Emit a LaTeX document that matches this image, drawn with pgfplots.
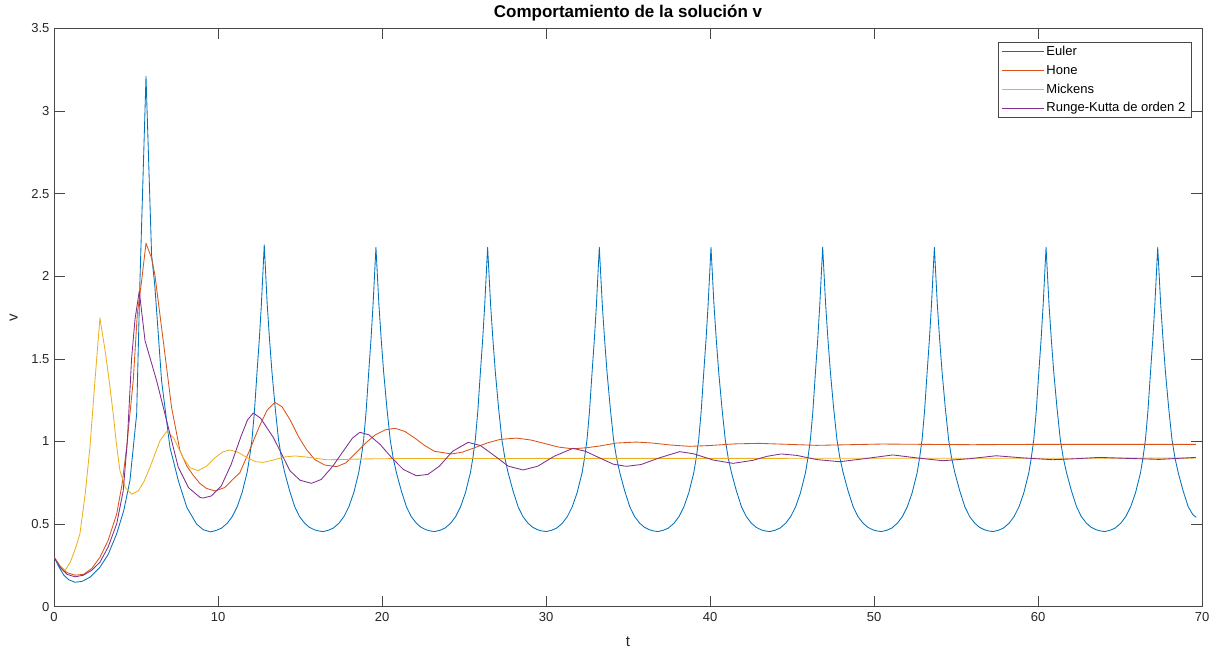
\documentclass[border=0pt]{standalone}
\usepackage{pgfplots}
\pgfplotsset{compat=1.18}
\usepackage{fontspec}
\setmainfont{Liberation Sans}
\definecolor{mblue}{rgb}{0,0.447,0.741}
\definecolor{mred}{rgb}{0.85,0.325,0.098}
\definecolor{myel}{rgb}{0.929,0.694,0.125}
\definecolor{mpur}{rgb}{0.494,0.184,0.556}
\definecolor{axgray}{rgb}{0.15,0.15,0.15}
\begin{document}
\begin{tikzpicture}
\begin{axis}[
  scale only axis,
  width=1148pt, height=578pt,
  xmin=0, xmax=70, ymin=0, ymax=3.5,
  xtick={0,10,...,70},
  ytick={0,0.5,1,1.5,2,2.5,3,3.5},
  yticklabels={0,0.5,1,1.5,2,2.5,3,3.5},
  xticklabels={0,10,20,30,40,50,60,70},
  tick align=inside,
  major tick length=11pt,
  axis line style={axgray!85, line width=0.6pt},
  tick style={axgray!85, line width=0.6pt},
  tick label style={font=\fontsize{13}{13}\selectfont, text=axgray},
  xticklabel style={yshift=-2pt},
  yticklabel style={xshift=-1pt},
  title={\textbf{Comportamiento de la solución v}},
  title style={font=\fontsize{17}{17}\selectfont, yshift=-2pt},
  xlabel={t}, ylabel={v},
  label style={font=\fontsize{15}{15}\selectfont, text=axgray},
  xlabel style={yshift=-9pt},
  ylabel style={yshift=7pt},
  legend cell align=left,
  legend style={at={(1,1)}, anchor=north east, xshift=-11pt, yshift=-14pt,
    font=\fontsize{13}{13}\selectfont, draw=axgray!85, line width=0.5pt,
    inner xsep=3.5pt, inner ysep=1.5pt, row sep=4pt},
  legend image code/.code={\draw[#1] (0pt,0pt) -- (42pt,0pt);},
  every axis plot/.append style={line width=0.85pt, line join=round},
]
% Euler
\addplot[mblue] coordinates {
(0,0.30)(0.3,0.24)(0.6,0.19)(0.9,0.162)(1.28,0.147)(1.7,0.152)(2.2,0.178)(2.8,0.238)(3.3,0.315)(3.82,0.44)(4.25,0.58)(4.63,0.762)(5.04,1.166)(5.24,1.97)(5.61,3.21)(5.95,2.13)(6.15,1.94)(6.56,1.367)(7.07,0.964)(7.58,0.762)(8.1,0.6)(8.69,0.50)(9.1,0.465)(9.55,0.452)
(9.92,0.462)(10.22,0.475)(10.57,0.505)(10.87,0.545)(11.17,0.604)(11.47,0.69)(11.77,0.81)(11.92,0.90)(12.07,1.01)(12.22,1.18)(12.38,1.42)(12.52,1.62)(12.64,1.82)(12.82,2.19)(13.00,1.83)(13.14,1.62)(13.29,1.42)(13.49,1.20)(13.69,1.01)(13.87,0.90)(14.07,0.81)(14.37,0.70)(14.68,0.604)(14.97,0.545)(15.28,0.505)(15.57,0.48)(15.87,0.465)(16.12,0.458)
(16.40,0.454)(16.73,0.462)(17.03,0.475)(17.38,0.505)(17.68,0.545)(17.98,0.604)(18.28,0.69)(18.58,0.81)(18.73,0.90)(18.88,1.01)(19.03,1.18)(19.19,1.42)(19.33,1.62)(19.45,1.82)(19.63,2.175)(19.81,1.83)(19.95,1.62)(20.10,1.42)(20.30,1.20)(20.50,1.01)(20.68,0.90)(20.88,0.81)(21.18,0.70)(21.49,0.604)(21.78,0.545)(22.09,0.505)(22.38,0.48)(22.68,0.465)(22.93,0.458)
(23.21,0.454)(23.54,0.462)(23.84,0.475)(24.19,0.505)(24.49,0.545)(24.79,0.604)(25.09,0.69)(25.39,0.81)(25.54,0.90)(25.69,1.01)(25.84,1.18)(26.00,1.42)(26.14,1.62)(26.26,1.82)(26.44,2.175)(26.62,1.83)(26.76,1.62)(26.91,1.42)(27.11,1.20)(27.31,1.01)(27.49,0.90)(27.69,0.81)(27.99,0.70)(28.30,0.604)(28.59,0.545)(28.90,0.505)(29.19,0.48)(29.49,0.465)(29.74,0.458)
(30.02,0.454)(30.35,0.462)(30.65,0.475)(31.00,0.505)(31.30,0.545)(31.60,0.604)(31.90,0.69)(32.20,0.81)(32.35,0.90)(32.50,1.01)(32.65,1.18)(32.81,1.42)(32.95,1.62)(33.07,1.82)(33.25,2.175)(33.43,1.83)(33.57,1.62)(33.72,1.42)(33.92,1.20)(34.12,1.01)(34.30,0.90)(34.50,0.81)(34.80,0.70)(35.11,0.604)(35.40,0.545)(35.71,0.505)(36.00,0.48)(36.30,0.465)(36.55,0.458)
(36.83,0.454)(37.16,0.462)(37.46,0.475)(37.81,0.505)(38.11,0.545)(38.41,0.604)(38.71,0.69)(39.01,0.81)(39.16,0.90)(39.31,1.01)(39.46,1.18)(39.62,1.42)(39.76,1.62)(39.88,1.82)(40.06,2.175)(40.24,1.83)(40.38,1.62)(40.53,1.42)(40.73,1.20)(40.93,1.01)(41.11,0.90)(41.31,0.81)(41.61,0.70)(41.92,0.604)(42.21,0.545)(42.52,0.505)(42.81,0.48)(43.11,0.465)(43.36,0.458)
(43.64,0.454)(43.97,0.462)(44.27,0.475)(44.62,0.505)(44.92,0.545)(45.22,0.604)(45.52,0.69)(45.82,0.81)(45.97,0.90)(46.12,1.01)(46.27,1.18)(46.43,1.42)(46.57,1.62)(46.69,1.82)(46.87,2.175)(47.05,1.83)(47.19,1.62)(47.34,1.42)(47.54,1.20)(47.74,1.01)(47.92,0.90)(48.12,0.81)(48.42,0.70)(48.73,0.604)(49.02,0.545)(49.33,0.505)(49.62,0.48)(49.92,0.465)(50.17,0.458)
(50.45,0.454)(50.78,0.462)(51.08,0.475)(51.43,0.505)(51.73,0.545)(52.03,0.604)(52.33,0.69)(52.63,0.81)(52.78,0.90)(52.93,1.01)(53.08,1.18)(53.24,1.42)(53.38,1.62)(53.50,1.82)(53.68,2.175)(53.86,1.83)(54.00,1.62)(54.15,1.42)(54.35,1.20)(54.55,1.01)(54.73,0.90)(54.93,0.81)(55.23,0.70)(55.54,0.604)(55.83,0.545)(56.14,0.505)(56.43,0.48)(56.73,0.465)(56.98,0.458)
(57.26,0.454)(57.59,0.462)(57.89,0.475)(58.24,0.505)(58.54,0.545)(58.84,0.604)(59.14,0.69)(59.44,0.81)(59.59,0.90)(59.74,1.01)(59.89,1.18)(60.05,1.42)(60.19,1.62)(60.31,1.82)(60.49,2.175)(60.67,1.83)(60.81,1.62)(60.96,1.42)(61.16,1.20)(61.36,1.01)(61.54,0.90)(61.74,0.81)(62.04,0.70)(62.35,0.604)(62.64,0.545)(62.95,0.505)(63.24,0.48)(63.54,0.465)(63.79,0.458)
(64.07,0.454)(64.40,0.462)(64.70,0.475)(65.05,0.505)(65.35,0.545)(65.65,0.604)(65.95,0.69)(66.25,0.81)(66.40,0.90)(66.55,1.01)(66.70,1.18)(66.86,1.42)(67.00,1.62)(67.12,1.82)(67.30,2.175)(67.48,1.83)(67.62,1.62)(67.77,1.42)(67.97,1.20)(68.17,1.01)(68.35,0.90)(68.55,0.81)(68.85,0.70)(69.16,0.604)(69.45,0.555)(69.65,0.54)
};
\addlegendentry{Euler}
% Hone
\addplot[mred] coordinates {
(0,0.30)(0.4,0.24)(0.8,0.205)(1.28,0.19)(1.8,0.195)(2.3,0.23)(2.8,0.298)(3.3,0.40)(3.82,0.56)(4.15,0.74)(4.43,0.964)(4.83,1.367)(5.08,1.77)(5.34,1.97)(5.61,2.20)(5.95,2.11)(6.15,2.01)(6.66,1.61)(7.17,1.205)(7.68,0.944)(8.1,0.85)(8.49,0.795)(8.9,0.745)(9.3,0.715)(9.81,0.70)(10.4,0.72)(10.9,0.77)(11.33,0.81)(11.9,0.94)(12.52,1.09)(13.0,1.19)(13.47,1.236)(13.9,1.21)(14.4,1.13)(14.9,1.03)(15.4,0.95)(15.9,0.89)(16.5,0.857)(17.23,0.847)(17.8,0.87)(18.4,0.93)(19.0,0.99)(19.6,1.04)(20.2,1.07)(20.8,1.079)(21.4,1.06)(22.0,1.02)(22.6,0.975)(23.2,0.94)(24.23,0.924)(24.9,0.935)(25.6,0.96)(26.4,0.99)(27.2,1.012)(28.2,1.02)(29.1,1.008)(30.0,0.985)(30.8,0.965)(31.64,0.955)(32.5,0.962)(33.27,0.972)(34.3,0.99)(35.5,0.996)(36.5,0.99)(37.6,0.978)(38.76,0.97)(40.0,0.975)(41.5,0.985)(43.0,0.988)(44.8,0.982)(46.5,0.976)(48.5,0.98)(50.5,0.984)(53,0.982)(56,0.98)(60,0.982)(65,0.982)(69.63,0.982)
};
\addlegendentry{Hone}
% Mickens
\addplot[myel] coordinates {
(0,0.30)(0.35,0.25)(0.67,0.218)(1.0,0.27)(1.3,0.35)(1.58,0.44)(1.9,0.68)(2.19,0.964)(2.5,1.37)(2.8,1.747)(3.1,1.56)(3.35,1.38)(3.61,1.166)(3.8,0.99)(4.02,0.823)(4.35,0.72)(4.73,0.68)(5.14,0.70)(5.5,0.76)(5.85,0.843)(6.46,1.004)(6.87,1.06)(7.3,1.02)(7.88,0.90)(8.3,0.84)(8.79,0.823)(9.3,0.85)(9.8,0.90)(10.3,0.937)(10.73,0.948)(11.2,0.935)(11.8,0.90)(12.3,0.877)(12.76,0.873)(13.3,0.885)(14.0,0.905)(14.69,0.912)(15.4,0.905)(16.6,0.889)(17.6,0.89)(19,0.894)(21,0.896)(25,0.896)(30,0.897)(40,0.897)(50,0.898)(60,0.898)(69.63,0.899)
};
\addlegendentry{Mickens}
% RK2
\addplot[mpur] coordinates {
(0,0.30)(0.4,0.235)(0.8,0.195)(1.28,0.18)(1.8,0.19)(2.3,0.22)(2.8,0.268)(3.3,0.36)(3.82,0.50)(4.22,0.70)(4.47,1.0)(4.73,1.5)(4.94,1.74)(5.2,1.91)(5.55,1.61)(6.26,1.367)(6.87,1.125)(7.58,0.843)(8.2,0.72)(8.9,0.661)(9.1,0.657)(9.6,0.67)(10.2,0.73)(10.8,0.86)(11.4,1.03)(11.8,1.13)(12.15,1.172)(12.6,1.14)(13.37,1.024)(13.9,0.92)(14.38,0.823)(15.0,0.765)(15.7,0.746)(16.3,0.77)(17.0,0.85)(17.7,0.95)(18.2,1.02)(18.65,1.055)(19.2,1.04)(19.9,0.98)(20.6,0.90)(21.3,0.83)(22.1,0.792)(22.8,0.80)(23.5,0.85)(24.3,0.94)(25.25,0.994)(26.0,0.975)(26.9,0.91)(27.7,0.85)(28.6,0.827)(29.5,0.85)(30.5,0.91)(31.64,0.958)(32.4,0.94)(33.27,0.90)(34.1,0.862)(34.9,0.849)(35.8,0.86)(36.9,0.90)(38.15,0.938)(39.0,0.925)(40.2,0.887)(41.4,0.867)(42.6,0.885)(43.5,0.91)(44.34,0.924)(45.3,0.915)(46.5,0.89)(47.9,0.877)(49.4,0.895)(51.15,0.918)(52.6,0.90)(54.2,0.883)(55.8,0.895)(57.45,0.913)(59.1,0.90)(60.9,0.889)(62.3,0.895)(63.74,0.903)(65.5,0.897)(67.4,0.891)(69.63,0.903)
};
\addlegendentry{Runge-Kutta de orden 2}
\end{axis}
\pgfresetboundingbox
\path ([xshift=-54pt,yshift=-44pt]current axis.south west) rectangle ([xshift=13pt,yshift=28.5pt]current axis.north east);
\end{tikzpicture}
\end{document}
